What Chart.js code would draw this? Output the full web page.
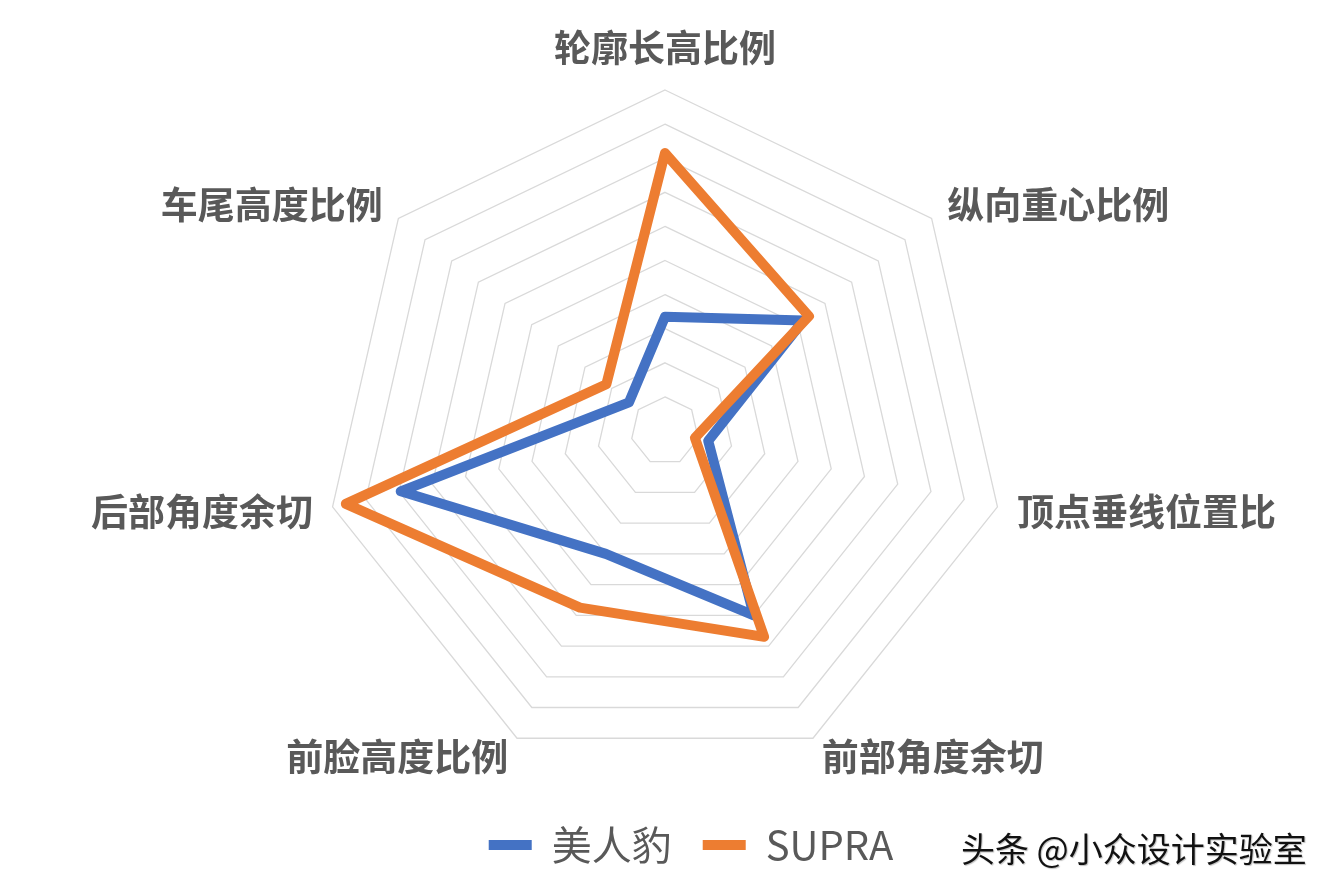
<!DOCTYPE html>
<html>
<head>
<meta charset="utf-8">
<script src="https://cdn.jsdelivr.net/npm/chart.js@4"></script>
<style>
    body { margin: 0; background: white; }
    #box { position: relative; width: 1334px; height: 889px; }
    #mark {
        position: absolute; left: 961px; top: 823px;
        font: 34px "Noto Sans CJK SC"; color: #111;
        text-shadow: 1px 1px 1px rgba(0, 0, 0, 0.25);
        white-space: nowrap;
    }
</style>
</head>
<body>
<div id="box">
    <canvas id="myChart"></canvas>
    <div id="mark">头条 @小众设计实验室</div>
</div>
<script>
// 七個比例指標
let labels = ['轮廓长高比例', '纵向重心比例', '顶点垂线位置比', '前部角度余切', '前脸高度比例', '后部角度余切', '车尾高度比例'];
let jaguarValues = [3.35, 5.2, 1.3, 6.0, 4.0, 7.95, 1.35];
let supraValues = [8.15, 5.4, 0.9, 6.7, 5.75, 9.6, 2.2];
let seriesNames = ['美人豹', 'SUPRA'];
let scaleMax = 10;

let textColor = '#595959';
let font = '"Noto Sans CJK SC", "Noto Sans", sans-serif';

// 圖例往右移一點（原圖圖例不在正中）
let legendShift = {
    id: 'legendShift',
    afterLayout(chart) {
        chart.legend.left += 26;
        chart.legend.right += 26;
    }
};

let ctx = document.getElementById('myChart').getContext('2d');
let myChart = new Chart(ctx, {
    type: 'radar',
    data: {
        labels: labels,
        datasets: [{
            label: seriesNames[0],
            data: jaguarValues,
            borderColor: '#4472C4',
            backgroundColor: '#4472C4',
            borderWidth: 10,
            borderJoinStyle: 'round',
            borderCapStyle: 'round',
            pointRadius: 0,
            fill: false,
            order: 1
        }, {
            label: seriesNames[1],
            data: supraValues,
            borderColor: '#ED7D31',
            backgroundColor: '#ED7D31',
            borderWidth: 10,
            borderJoinStyle: 'round',
            borderCapStyle: 'round',
            pointRadius: 0,
            fill: false,
            order: 0   // 橘線畫在上面
        }]
    },
    options: {
        responsive: true,
        maintainAspectRatio: false,
        animation: false,
        layout: {
            padding: { top: 26, left: 0, right: 4, bottom: 14 }
        },
        plugins: {
            tooltip: { enabled: false },
            legend: {
                position: 'bottom',
                labels: {
                    usePointStyle: true,
                    pointStyle: 'line',
                    pointStyleWidth: 43,
                    padding: 31,
                    color: textColor,
                    font: { family: font, size: 40 },
                    sort: (a, b) => a.datasetIndex - b.datasetIndex
                }
            }
        },
        scales: {
            r: {
                min: 0,
                max: scaleMax,
                ticks: { display: false, stepSize: 1 },
                angleLines: { display: false },
                grid: { color: '#d9d9d9', lineWidth: 1.3 },
                pointLabels: {
                    color: textColor,
                    // 行高設很小，讓側邊標籤垂直置中在頂點方向上
                    font: { family: font, size: 37, weight: 'bold', lineHeight: '1px' },
                    padding: (c) => c.index === 0 ? 42 : 20
                }
            }
        }
    },
    plugins: [legendShift]
});
</script>
</body>
</html>
